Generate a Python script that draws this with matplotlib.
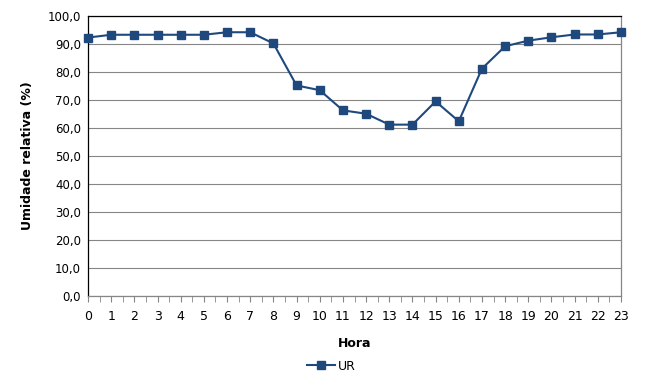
import matplotlib.pyplot as plt
from matplotlib.ticker import MultipleLocator, FuncFormatter

hours = list(range(24))
ur = [92.3, 93.3, 93.3, 93.3, 93.3, 93.3, 94.2, 94.2, 90.2, 75.2, 73.5, 66.3,
      65.1, 61.2, 61.2, 69.5, 62.4, 81.2, 89.2, 91.2, 92.4, 93.4, 93.4, 94.2]

line_color = "#1F497D"
grid_color = "#868686"

fig = plt.figure(figsize=(6.7, 3.92), dpi=100)
ax = fig.add_axes([88 / 670, 1 - 296 / 392, (621 - 88) / 670, (296 - 16) / 392])

ax.plot(hours, ur, color=line_color, linewidth=1.5, marker="s", markersize=6,
        label="UR", clip_on=False, zorder=3)

ax.set_xlim(0, 23)
ax.set_ylim(0, 100)
ax.xaxis.set_major_locator(MultipleLocator(1))
ax.xaxis.set_minor_locator(MultipleLocator(0.5))
ax.yaxis.set_major_locator(MultipleLocator(10))
ax.yaxis.set_major_formatter(FuncFormatter(lambda v, p: f"{v:.1f}".replace(".", ",")))

ax.grid(axis="y", color=grid_color, linewidth=0.8)
ax.set_axisbelow(True)

for side in ["top", "left"]:
    ax.spines[side].set_color("black")
    ax.spines[side].set_linewidth(0.9)
for side in ["bottom", "right"]:
    ax.spines[side].set_color(grid_color)
    ax.spines[side].set_linewidth(0.9)

ax.tick_params(axis="x", which="both", direction="out", length=4, color=grid_color,
               labelsize=9, pad=6)
ax.tick_params(axis="y", length=0, labelsize=8.5, pad=5)

ax.set_xlabel("Hora", fontsize=9, fontweight="bold", labelpad=10)
ax.set_ylabel("Umidade relativa (%)", fontsize=9, fontweight="bold", labelpad=10)

fig.legend(loc="center", bbox_to_anchor=(0.495, 0.066), frameon=False, fontsize=9,
           handlelength=2.2, handletextpad=0.3)

fig.savefig("out.png", dpi=100)
